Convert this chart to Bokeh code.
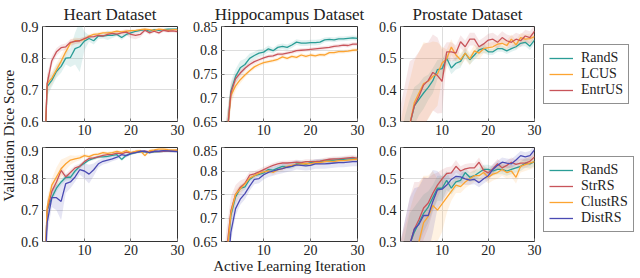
import math
from bokeh.plotting import figure
from bokeh.models import (Range1d, FixedTicker, Legend, LegendItem, Label)
from bokeh.layouts import row, column
from bokeh.embed import file_html
from bokeh.resources import INLINE

# ---------------- data ----------------
iterations = list(range(1, 31))

x_ticks = [10, 20, 30]
heart_yticks = [0.6, 0.7, 0.8, 0.9]
heart_ylabels = ["0.6", "0.7", "0.8", "0.9"]
hippo_yticks = [0.65, 0.7, 0.75, 0.8, 0.85]
hippo_ylabels = ["0.65", "0.7", "0.75", "0.8", "0.85"]
prost_yticks = [0.3, 0.4, 0.5, 0.6]
prost_ylabels = ["0.3", "0.4", "0.5", "0.6"]

titles = ["Heart Dataset", "Hippocampus Dataset", "Prostate Dataset"]
top_labels = ["RandS", "LCUS", "EntrUS"]
bottom_labels = ["RandS", "StrRS", "ClustRS", "DistRS"]

# Heart, uncertainty sampling
heart_rands = [0.30, 0.71, 0.73, 0.758, 0.774, 0.80, 0.802, 0.83, 0.836, 0.854, 0.862, 0.855, 0.87, 0.87, 0.872, 0.872, 0.875, 0.865, 0.875, 0.88, 0.885, 0.888, 0.89, 0.885, 0.89, 0.888, 0.89, 0.892, 0.892, 0.892]
heart_lcus = [0.30, 0.72, 0.737, 0.763, 0.79, 0.82, 0.847, 0.855, 0.855, 0.86, 0.87, 0.875, 0.877, 0.88, 0.88, 0.882, 0.885, 0.883, 0.885, 0.887, 0.888, 0.89, 0.892, 0.89, 0.888, 0.892, 0.89, 0.888, 0.89, 0.89]
heart_entrus = [0.30, 0.72, 0.792, 0.82, 0.833, 0.836, 0.85, 0.853, 0.855, 0.862, 0.867, 0.868, 0.872, 0.87, 0.875, 0.878, 0.876, 0.88, 0.882, 0.875, 0.872, 0.875, 0.888, 0.88, 0.885, 0.88, 0.888, 0.885, 0.886, 0.884]
heart_rands_sd = [0.05, 0.03, 0.02, 0.02, 0.02, 0.02, 0.03, 0.05, 0.08, 0.03, 0.01, 0.012, 0.01, 0.008, 0.015, 0.008, 0.006, 0.008, 0.006, 0.005, 0.004, 0.004, 0.004, 0.004, 0.004, 0.004, 0.003, 0.003, 0.003, 0.003]
heart_lcus_sd = [0.05, 0.03, 0.02, 0.02, 0.02, 0.015, 0.012, 0.01, 0.008, 0.008, 0.006, 0.005, 0.005, 0.005, 0.005, 0.005, 0.004, 0.004, 0.004, 0.004, 0.004, 0.004, 0.004, 0.004, 0.004, 0.004, 0.004, 0.004, 0.004, 0.004]
heart_entrus_sd = [0.05, 0.03, 0.015, 0.012, 0.01, 0.01, 0.01, 0.008, 0.008, 0.006, 0.005, 0.005, 0.005, 0.005, 0.005, 0.005, 0.006, 0.008, 0.01, 0.012, 0.012, 0.01, 0.006, 0.006, 0.005, 0.005, 0.005, 0.005, 0.005, 0.005]

# Hippocampus, uncertainty sampling
hippo_rands = [0.45, 0.60, 0.714, 0.745, 0.763, 0.77, 0.783, 0.789, 0.794, 0.796, 0.803, 0.799, 0.806, 0.808, 0.806, 0.811, 0.817, 0.815, 0.815, 0.816, 0.816, 0.817, 0.822, 0.823, 0.822, 0.824, 0.824, 0.825, 0.826, 0.825]
hippo_lcus = [0.45, 0.60, 0.705, 0.725, 0.738, 0.748, 0.757, 0.765, 0.77, 0.774, 0.776, 0.778, 0.781, 0.786, 0.783, 0.787, 0.785, 0.79, 0.787, 0.79, 0.788, 0.791, 0.79, 0.795, 0.795, 0.797, 0.797, 0.798, 0.80, 0.801]
hippo_entrus = [0.45, 0.60, 0.71, 0.74, 0.752, 0.762, 0.77, 0.776, 0.78, 0.784, 0.787, 0.788, 0.792, 0.792, 0.794, 0.796, 0.799, 0.80, 0.801, 0.802, 0.803, 0.804, 0.805, 0.806, 0.808, 0.809, 0.811, 0.81, 0.813, 0.813]
hippo_rands_sd = [0.05, 0.05, 0.02, 0.015, 0.015, 0.012, 0.01, 0.008, 0.008, 0.007, 0.007, 0.006, 0.006, 0.006, 0.006, 0.006, 0.006, 0.006, 0.006, 0.006, 0.006, 0.006, 0.005, 0.005, 0.005, 0.005, 0.005, 0.005, 0.005, 0.005]
hippo_lcus_sd = [0.05, 0.05, 0.02, 0.01, 0.008, 0.006, 0.005, 0.005, 0.005, 0.004, 0.004, 0.004, 0.004, 0.004, 0.004, 0.004, 0.004, 0.004, 0.004, 0.004, 0.004, 0.004, 0.004, 0.004, 0.004, 0.004, 0.004, 0.004, 0.004, 0.004]
hippo_entrus_sd = [0.05, 0.05, 0.02, 0.01, 0.008, 0.006, 0.005, 0.005, 0.004, 0.004, 0.004, 0.004, 0.004, 0.004, 0.004, 0.004, 0.004, 0.004, 0.004, 0.004, 0.004, 0.004, 0.004, 0.004, 0.004, 0.004, 0.004, 0.004, 0.004, 0.004]

# Prostate, uncertainty sampling
prost_rands = [0.15, 0.22, 0.29, 0.349, 0.37, 0.39, 0.408, 0.429, 0.464, 0.467, 0.50, 0.469, 0.484, 0.49, 0.516, 0.495, 0.51, 0.526, 0.531, 0.52, 0.52, 0.53, 0.53, 0.523, 0.53, 0.536, 0.547, 0.55, 0.538, 0.557]
prost_lcus = [0.15, 0.22, 0.29, 0.36, 0.39, 0.42, 0.427, 0.443, 0.45, 0.485, 0.498, 0.535, 0.51, 0.495, 0.516, 0.498, 0.523, 0.516, 0.53, 0.533, 0.536, 0.544, 0.547, 0.54, 0.56, 0.542, 0.565, 0.56, 0.562, 0.568]
prost_entrus = [0.15, 0.22, 0.29, 0.35, 0.38, 0.415, 0.43, 0.455, 0.445, 0.427, 0.52, 0.52, 0.516, 0.552, 0.536, 0.56, 0.56, 0.536, 0.545, 0.557, 0.56, 0.55, 0.565, 0.555, 0.55, 0.56, 0.555, 0.57, 0.565, 0.585]
prost_rands_sd = [0.1, 0.1, 0.08, 0.06, 0.05, 0.05, 0.04, 0.04, 0.03, 0.03, 0.02, 0.02, 0.02, 0.02, 0.015, 0.015, 0.015, 0.015, 0.015, 0.01, 0.01, 0.01, 0.01, 0.01, 0.01, 0.01, 0.01, 0.012, 0.012, 0.012]
prost_lcus_sd = [0.15, 0.15, 0.14, 0.13, 0.13, 0.13, 0.12, 0.11, 0.1, 0.05, 0.03, 0.025, 0.02, 0.02, 0.02, 0.02, 0.02, 0.02, 0.015, 0.015, 0.015, 0.015, 0.015, 0.015, 0.015, 0.015, 0.015, 0.015, 0.015, 0.015]
prost_entrus_sd = [0.2, 0.2, 0.2, 0.15, 0.14, 0.13, 0.12, 0.12, 0.12, 0.1, 0.03, 0.03, 0.025, 0.02, 0.02, 0.02, 0.02, 0.02, 0.02, 0.02, 0.02, 0.02, 0.02, 0.02, 0.02, 0.02, 0.02, 0.02, 0.02, 0.02]

# Heart, representative sampling
heart_b_rands = [0.30, 0.70, 0.74, 0.77, 0.79, 0.805, 0.805, 0.825, 0.84, 0.85, 0.86, 0.865, 0.87, 0.87, 0.872, 0.875, 0.877, 0.862, 0.875, 0.88, 0.884, 0.886, 0.886, 0.884, 0.886, 0.887, 0.888, 0.889, 0.888, 0.889]
heart_b_strrs = [0.30, 0.70, 0.76, 0.79, 0.827, 0.806, 0.82, 0.835, 0.84, 0.855, 0.865, 0.867, 0.87, 0.875, 0.877, 0.878, 0.882, 0.88, 0.885, 0.883, 0.886, 0.887, 0.888, 0.886, 0.888, 0.887, 0.888, 0.889, 0.888, 0.89]
heart_b_clustrs = [0.30, 0.71, 0.78, 0.806, 0.832, 0.848, 0.86, 0.864, 0.867, 0.874, 0.871, 0.877, 0.879, 0.884, 0.881, 0.884, 0.888, 0.884, 0.89, 0.884, 0.888, 0.89, 0.874, 0.89, 0.892, 0.895, 0.895, 0.893, 0.892, 0.892]
heart_b_distrs = [0.30, 0.66, 0.74, 0.74, 0.728, 0.785, 0.79, 0.806, 0.829, 0.825, 0.815, 0.829, 0.848, 0.856, 0.86, 0.864, 0.869, 0.877, 0.874, 0.881, 0.884, 0.888, 0.888, 0.884, 0.888, 0.888, 0.89, 0.889, 0.888, 0.887]
heart_b_rands_sd = [0.05, 0.03, 0.015, 0.012, 0.01, 0.01, 0.01, 0.008, 0.008, 0.006, 0.005, 0.005, 0.005, 0.005, 0.005, 0.005, 0.005, 0.006, 0.005, 0.004, 0.004, 0.004, 0.004, 0.004, 0.004, 0.004, 0.004, 0.004, 0.004, 0.004]
heart_b_strrs_sd = [0.05, 0.03, 0.02, 0.015, 0.012, 0.01, 0.01, 0.008, 0.008, 0.006, 0.005, 0.005, 0.005, 0.005, 0.005, 0.005, 0.005, 0.005, 0.004, 0.004, 0.004, 0.004, 0.004, 0.004, 0.004, 0.004, 0.004, 0.004, 0.004, 0.004]
heart_b_clustrs_sd = [0.05, 0.03, 0.02, 0.03, 0.03, 0.02, 0.015, 0.01, 0.008, 0.006, 0.005, 0.005, 0.005, 0.005, 0.005, 0.005, 0.005, 0.005, 0.005, 0.005, 0.005, 0.005, 0.005, 0.005, 0.004, 0.004, 0.004, 0.004, 0.004, 0.004]
heart_b_distrs_sd = [0.05, 0.04, 0.03, 0.04, 0.06, 0.03, 0.02, 0.015, 0.015, 0.025, 0.03, 0.02, 0.012, 0.01, 0.01, 0.008, 0.008, 0.006, 0.006, 0.005, 0.004, 0.004, 0.004, 0.004, 0.004, 0.004, 0.004, 0.004, 0.004, 0.004]

# Hippocampus, representative sampling
hippo_b_rands = [0.45, 0.60, 0.705, 0.745, 0.763, 0.766, 0.782, 0.79, 0.793, 0.796, 0.803, 0.802, 0.806, 0.81, 0.809, 0.81, 0.815, 0.816, 0.814, 0.818, 0.819, 0.82, 0.821, 0.822, 0.823, 0.824, 0.825, 0.826, 0.826, 0.826]
hippo_b_strrs = [0.45, 0.62, 0.715, 0.75, 0.765, 0.774, 0.791, 0.794, 0.798, 0.803, 0.808, 0.812, 0.815, 0.817, 0.817, 0.818, 0.819, 0.818, 0.82, 0.82, 0.82, 0.821, 0.823, 0.825, 0.826, 0.826, 0.827, 0.828, 0.829, 0.827]
hippo_b_clustrs = [0.45, 0.60, 0.71, 0.75, 0.762, 0.772, 0.785, 0.79, 0.795, 0.798, 0.80, 0.797, 0.803, 0.805, 0.81, 0.812, 0.814, 0.815, 0.816, 0.815, 0.818, 0.818, 0.82, 0.821, 0.82, 0.822, 0.822, 0.823, 0.824, 0.825]
hippo_b_distrs = [0.40, 0.55, 0.67, 0.72, 0.74, 0.752, 0.768, 0.782, 0.784, 0.792, 0.797, 0.80, 0.803, 0.805, 0.808, 0.81, 0.813, 0.812, 0.811, 0.812, 0.815, 0.815, 0.815, 0.816, 0.817, 0.818, 0.818, 0.819, 0.82, 0.82]
hippo_b_rands_sd = [0.05, 0.04, 0.015, 0.01, 0.008, 0.006, 0.005, 0.005, 0.005, 0.005, 0.005, 0.005, 0.005, 0.005, 0.005, 0.005, 0.005, 0.005, 0.005, 0.005, 0.005, 0.005, 0.005, 0.005, 0.005, 0.005, 0.005, 0.005, 0.005, 0.005]
hippo_b_strrs_sd = [0.06, 0.05, 0.03, 0.02, 0.015, 0.01, 0.008, 0.006, 0.006, 0.006, 0.005, 0.005, 0.005, 0.005, 0.005, 0.005, 0.005, 0.005, 0.005, 0.005, 0.005, 0.005, 0.005, 0.005, 0.005, 0.005, 0.005, 0.005, 0.005, 0.005]
hippo_b_clustrs_sd = [0.05, 0.04, 0.015, 0.01, 0.008, 0.006, 0.005, 0.005, 0.005, 0.005, 0.005, 0.005, 0.005, 0.005, 0.005, 0.005, 0.005, 0.005, 0.005, 0.005, 0.005, 0.005, 0.005, 0.005, 0.005, 0.005, 0.005, 0.005, 0.005, 0.005]
hippo_b_distrs_sd = [0.05, 0.04, 0.02, 0.015, 0.012, 0.012, 0.01, 0.01, 0.01, 0.01, 0.01, 0.01, 0.01, 0.01, 0.01, 0.01, 0.01, 0.01, 0.01, 0.01, 0.01, 0.01, 0.01, 0.01, 0.01, 0.01, 0.01, 0.01, 0.01, 0.01]

# Prostate, representative sampling
prost_b_rands = [0.15, 0.22, 0.29, 0.33, 0.36, 0.39, 0.41, 0.44, 0.47, 0.47, 0.495, 0.47, 0.49, 0.495, 0.52, 0.505, 0.51, 0.52, 0.53, 0.53, 0.525, 0.53, 0.53, 0.525, 0.53, 0.535, 0.54, 0.55, 0.548, 0.555]
prost_b_strrs = [0.15, 0.22, 0.29, 0.34, 0.37, 0.407, 0.423, 0.454, 0.48, 0.50, 0.517, 0.519, 0.54, 0.525, 0.532, 0.535, 0.535, 0.553, 0.527, 0.519, 0.532, 0.548, 0.535, 0.543, 0.553, 0.546, 0.55, 0.55, 0.556, 0.57]
prost_b_clustrs = [0.10, 0.15, 0.20, 0.25, 0.30, 0.36, 0.38, 0.415, 0.40, 0.42, 0.44, 0.46, 0.48, 0.475, 0.49, 0.50, 0.51, 0.51, 0.52, 0.505, 0.515, 0.52, 0.53, 0.52, 0.525, 0.505, 0.54, 0.545, 0.55, 0.555]
prost_b_distrs = [0.15, 0.22, 0.29, 0.34, 0.355, 0.383, 0.383, 0.428, 0.465, 0.467, 0.48, 0.498, 0.508, 0.506, 0.50, 0.496, 0.498, 0.488, 0.50, 0.51, 0.53, 0.543, 0.553, 0.55, 0.548, 0.56, 0.574, 0.57, 0.574, 0.592]
prost_b_rands_sd = [0.1, 0.1, 0.1, 0.08, 0.07, 0.06, 0.05, 0.04, 0.04, 0.04, 0.03, 0.02, 0.02, 0.02, 0.015, 0.015, 0.015, 0.015, 0.015, 0.015, 0.015, 0.015, 0.015, 0.015, 0.015, 0.015, 0.015, 0.015, 0.015, 0.015]
prost_b_strrs_sd = [0.15, 0.15, 0.15, 0.15, 0.12, 0.1, 0.08, 0.06, 0.04, 0.03, 0.02, 0.02, 0.02, 0.015, 0.015, 0.015, 0.015, 0.015, 0.015, 0.015, 0.015, 0.015, 0.015, 0.015, 0.015, 0.015, 0.015, 0.015, 0.015, 0.015]
prost_b_clustrs_sd = [0.2, 0.2, 0.2, 0.2, 0.18, 0.15, 0.13, 0.11, 0.1, 0.09, 0.05, 0.03, 0.025, 0.02, 0.02, 0.02, 0.02, 0.02, 0.02, 0.02, 0.02, 0.02, 0.02, 0.02, 0.02, 0.02, 0.02, 0.02, 0.02, 0.02]
prost_b_distrs_sd = [0.15, 0.15, 0.15, 0.13, 0.12, 0.12, 0.12, 0.1, 0.06, 0.04, 0.03, 0.025, 0.02, 0.02, 0.02, 0.015, 0.015, 0.015, 0.015, 0.015, 0.015, 0.015, 0.015, 0.015, 0.015, 0.015, 0.015, 0.015, 0.015, 0.015]

# ---------------- style ----------------
FONT = "Liberation Serif"
TEAL = "#2a9d96"
ORANGE = "#fca431"
RED = "#c8545a"
BLUE = "#4a4ab3"
top_colors = [TEAL, ORANGE, RED]
bottom_colors = [TEAL, RED, ORANGE, BLUE]


def make_panel(yr, yticks, ylabels, fw, fh, means, sds, colors, bl, br, bt, bb,
               title=None, xlabel=None, legend_labels=None):
    p = figure(frame_width=fw, frame_height=fh, output_backend="svg",
               toolbar_location=None, x_range=Range1d(1, 30),
               y_range=Range1d(yr[0], yr[1]),
               min_border_left=bl, min_border_right=br,
               min_border_top=bt, min_border_bottom=bb)
    p.background_fill_color = "white"
    p.border_fill_color = "white"
    p.outline_line_color = "#333333"
    p.outline_line_width = 1
    p.xaxis.ticker = FixedTicker(ticks=x_ticks)
    p.yaxis.ticker = FixedTicker(ticks=yticks)
    p.yaxis.major_label_overrides = {t: l for t, l in zip(yticks, ylabels)}
    for ax in (p.xaxis[0], p.yaxis[0]):
        ax.axis_line_color = None
        ax.major_tick_in = 3
        ax.major_tick_out = 0
        ax.major_tick_line_color = "#777777"
        ax.minor_tick_line_color = None
        ax.major_label_text_font = FONT
        ax.major_label_text_font_size = "14px"
        ax.major_label_text_color = "#222222"
        ax.major_label_standoff = 4
    p.xaxis.major_label_standoff = 3
    p.xgrid.grid_line_color = "#dddddd"
    p.ygrid.grid_line_color = "#dddddd"
    if title:
        p.title.text = title
        p.title.align = "center"
        p.title.text_font = FONT
        p.title.text_font_size = "17px"
        p.title.text_font_style = "normal"
        p.title.text_color = "#222222"
        p.title.standoff = 5
    if xlabel:
        p.xaxis.axis_label = xlabel
        p.xaxis.axis_label_text_font = FONT
        p.xaxis.axis_label_text_font_size = "15px"
        p.xaxis.axis_label_text_font_style = "normal"
        p.xaxis.axis_label_text_color = "#222222"
        p.xaxis.axis_label_standoff = 0
    lines = []
    for m, s, c in zip(means, sds, colors):
        lo = [a - b for a, b in zip(m, s)]
        hi = [a + b for a, b in zip(m, s)]
        p.varea(x=iterations, y1=lo, y2=hi, fill_color=c, fill_alpha=0.14)
    for m, c in zip(means, colors):
        lines.append(p.line(iterations, m, line_color=c, line_width=1.3))
    if legend_labels:
        items = [LegendItem(label=l, renderers=[r]) for l, r in zip(legend_labels, lines)]
        leg = Legend(items=items, location="center_left")
        leg.label_text_font = FONT
        leg.label_text_font_size = "14px"
        leg.label_text_color = "#222222"
        leg.border_line_color = "#222222"
        leg.border_line_width = 1
        leg.background_fill_alpha = 1
        leg.glyph_width = 24
        leg.glyph_height = 14
        leg.label_height = 14
        leg.label_standoff = 8
        leg.spacing = 0
        leg.padding = 5
        leg.margin = 9
        p.add_layout(leg, "right")
    return p


TOP_FH = 95
BOT_FH = 94

h1 = make_panel((0.6, 0.9), heart_yticks, heart_ylabels, 135, TOP_FH,
                [heart_rands, heart_lcus, heart_entrus],
                [heart_rands_sd, heart_lcus_sd, heart_entrus_sd], top_colors,
                26, 12, 25, 24, title=titles[0])
h2 = make_panel((0.65, 0.85), hippo_yticks, hippo_ylabels, 136, TOP_FH,
                [hippo_rands, hippo_lcus, hippo_entrus],
                [hippo_rands_sd, hippo_lcus_sd, hippo_entrus_sd], top_colors,
                31, 12, 25, 24, title=titles[1])
h3 = make_panel((0.3, 0.6), prost_yticks, prost_ylabels, 134, TOP_FH,
                [prost_rands, prost_lcus, prost_entrus],
                [prost_rands_sd, prost_lcus_sd, prost_entrus_sd], top_colors,
                31, 0, 25, 24, title=titles[2], legend_labels=top_labels)

b1 = make_panel((0.6, 0.9), heart_yticks, heart_ylabels, 135, BOT_FH,
                [heart_b_rands, heart_b_strrs, heart_b_clustrs, heart_b_distrs],
                [heart_b_rands_sd, heart_b_strrs_sd, heart_b_clustrs_sd, heart_b_distrs_sd],
                bottom_colors, 26, 12, 2, 36)
b2 = make_panel((0.65, 0.85), hippo_yticks, hippo_ylabels, 136, BOT_FH,
                [hippo_b_rands, hippo_b_strrs, hippo_b_clustrs, hippo_b_distrs],
                [hippo_b_rands_sd, hippo_b_strrs_sd, hippo_b_clustrs_sd, hippo_b_distrs_sd],
                bottom_colors, 31, 12, 2, 36, xlabel="Active Learning Iteration")
b3 = make_panel((0.3, 0.6), prost_yticks, prost_ylabels, 134, BOT_FH,
                [prost_b_rands, prost_b_strrs, prost_b_clustrs, prost_b_distrs],
                [prost_b_rands_sd, prost_b_strrs_sd, prost_b_clustrs_sd, prost_b_distrs_sd],
                bottom_colors, 31, 0, 2, 36, legend_labels=bottom_labels)

TOTAL_H = 25 + TOP_FH + 24 + 2 + BOT_FH + 36

# shared y label
yl = figure(width=16, height=TOTAL_H, output_backend="svg", toolbar_location=None,
            x_range=Range1d(0, 1), y_range=Range1d(0, 1),
            min_border=0, min_border_left=0, min_border_right=0,
            min_border_top=0, min_border_bottom=0)
yl.axis.visible = False
yl.grid.visible = False
yl.outline_line_color = None
yl.add_layout(Label(x=0.5, y=0.51, text="Validation Dice Score", angle=math.pi / 2,
                    text_align="center", text_baseline="middle", text_font=FONT,
                    text_font_size="15px", text_color="#222222"))

layout = row(yl, column(row(h1, h2, h3), row(b1, b2, b3)))

open("out.html", "w").write(file_html(layout, INLINE))
